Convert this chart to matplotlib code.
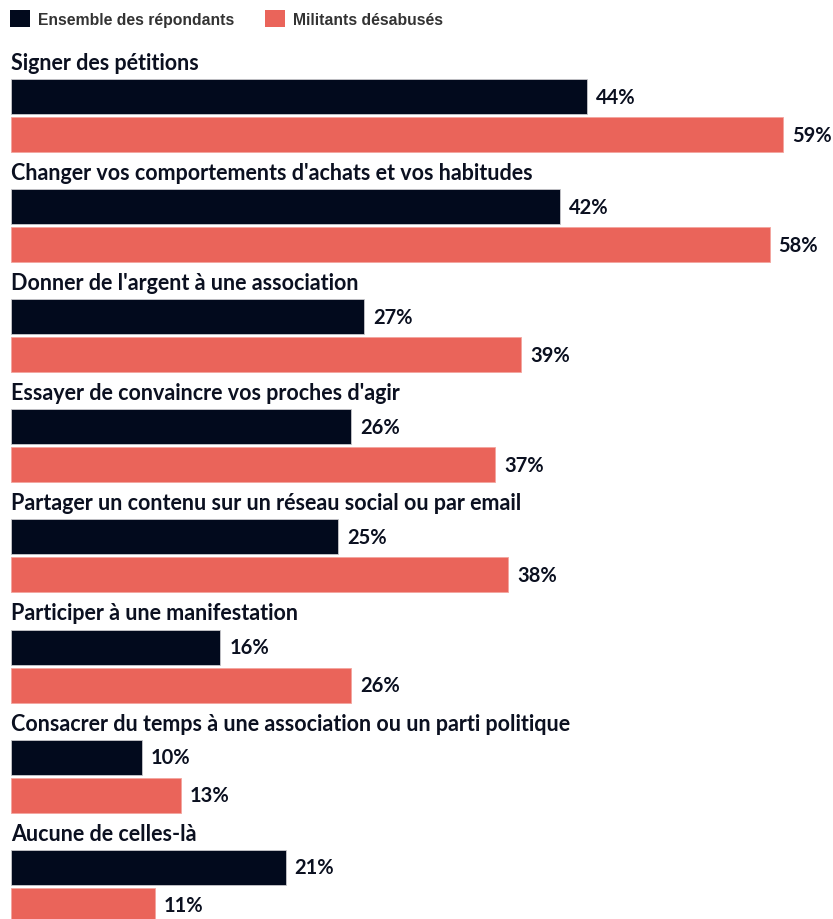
import matplotlib.pyplot as plt

# données
categories = [
    "Signer des pétitions",
    "Changer vos comportements d'achats et vos habitudes",
    "Donner de l'argent à une association",
    "Essayer de convaincre vos proches d'agir",
    "Partager un contenu sur un réseau social ou par email",
    "Participer à une manifestation",
    "Consacrer du temps à une association ou un parti politique",
    "Aucune de celles-là",
]
ensemble = [44, 42, 27, 26, 25, 16, 10, 21]
militants = [59, 58, 39, 37, 38, 26, 13, 11]
series_labels = ["Ensemble des répondants", "Militants désabusés"]

DARK = "#020a1d"
RED = "#ea645a"

W, H = 833, 920
px_per_pct = 13.08
left_px = 11
pitch = 110.1      # hauteur d'un groupe (px)
bar_h = 35

fig = plt.figure(figsize=(W / 100, H / 100), dpi=100)
ax = fig.add_axes([0, 0, 1, 1])
ax.set_xlim(-left_px / px_per_pct, (W - left_px) / px_per_pct)
ax.set_ylim(H, 0)
ax.axis("off")

label_font = dict(family=["Lato", "DejaVu Sans"], fontweight="bold", color="#0b1020")

y_dark = [97.5 + i * pitch for i in range(len(categories))]
y_red = [135.5 + i * pitch for i in range(len(categories))]
y_lab = [70 + i * pitch for i in range(len(categories))]

b1 = ax.barh(y_dark, ensemble, height=bar_h, color=DARK, edgecolor="#c8c8cc",
             linewidth=0.6, label=series_labels[0])
b2 = ax.barh(y_red, militants, height=bar_h, color=RED, edgecolor="#f3a59e",
             linewidth=0.6, label=series_labels[1])

for cat, y in zip(categories, y_lab):
    ax.text(0, y, cat, fontsize=15.5, va="baseline", ha="left", **label_font)

pad = 9 / px_per_pct
for v, y in zip(ensemble, y_dark):
    ax.text(v + pad, y, f"{v}%", fontsize=14.5, va="center", ha="left", **label_font)
for v, y in zip(militants, y_red):
    ax.text(v + pad, y, f"{v}%", fontsize=14.5, va="center", ha="left", **label_font)

leg = ax.legend(handles=[b1, b2], loc="upper left", bbox_to_anchor=(4 / W, 1 - 5 / H),
                ncol=2, frameon=False, handlelength=1.25, handleheight=1.25,
                handletextpad=0.5, columnspacing=2.0, borderaxespad=0,
                prop=dict(family="Liberation Sans", weight="bold", size=11.3))
for t in leg.get_texts():
    t.set_color("#333333")
for h in leg.legend_handles:
    h.set_edgecolor("none")

fig.savefig("out.png", dpi=100)
